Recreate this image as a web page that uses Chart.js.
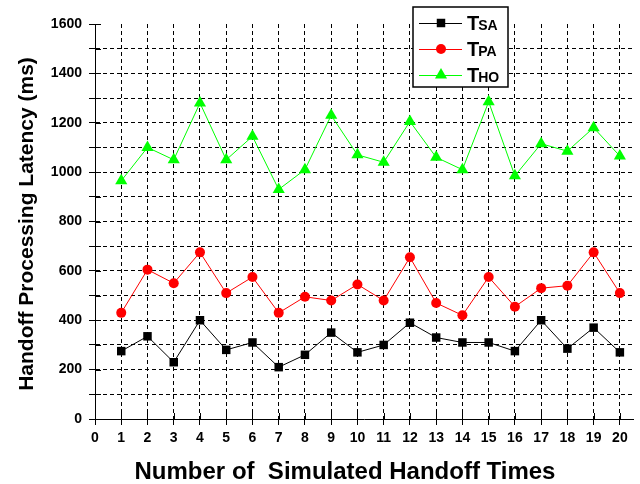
<!DOCTYPE html>
<html>
<head>
<meta charset="utf-8">
<script src="https://cdn.jsdelivr.net/npm/chart.js@4.4.1/dist/chart.umd.min.js"></script>
<style>
  html, body { margin: 0; padding: 0; background: #fff; }
  #wrap { position: relative; width: 640px; height: 484px; }
</style>
</head>
<body>
<div id="wrap"><canvas id="chart" width="640" height="484"></canvas></div>
<script>
// ---- data ----
const handoffs = [1, 2, 3, 4, 5, 6, 7, 8, 9, 10, 11, 12, 13, 14, 15, 16, 17, 18, 19, 20];
const tSA = [275, 335, 230, 400, 280, 310, 210, 260, 350, 270, 300, 390, 330, 310, 310, 275, 400, 285, 370, 270];
const tPA = [430, 605, 550, 675, 510, 575, 430, 495, 480, 545, 480, 655, 470, 420, 575, 455, 530, 540, 675, 510];
const tHO = [965, 1100, 1050, 1280, 1050, 1145, 930, 1010, 1230, 1070, 1040, 1205, 1060, 1010, 1285, 985, 1115, 1085, 1180, 1065];

const yMax = 1600;
const yStep = 100;
const xMax = 20.5;

const FONT = "'Liberation Sans', Arial, sans-serif";

// series: legend main letter + subscript
const series = [
  { main: "T", sub: "SA", values: tSA, color: "#000000", style: "rect", radius: 6 },
  { main: "T", sub: "PA", values: tPA, color: "#ff0000", style: "circle", radius: 5 },
  { main: "T", sub: "HO", values: tHO, color: "#00ff00", style: "triangle", radius: 7 }
];

const datasets = series.map(s => ({
  label: s.main + s.sub,
  data: handoffs.map((x, i) => ({ x: x, y: s.values[i] })),
  borderColor: s.color,
  backgroundColor: s.color,
  borderWidth: 1,
  pointStyle: s.style,
  pointRadius: s.radius,
  pointHoverRadius: s.radius,
  pointBorderWidth: 0,
  pointBackgroundColor: s.color,
  tension: 0
}));

// inner half of the tick marks (ticks cross the axis)
const innerTicks = {
  id: "innerTicks",
  beforeDatasetsDraw(chart) {
    const { ctx, scales: { x, y } } = chart;
    ctx.save();
    ctx.strokeStyle = "#000";
    ctx.lineWidth = 1;
    ctx.beginPath();
    y.ticks.forEach(t => {
      const py = Math.round(y.getPixelForValue(t.value)) + 0.5;
      ctx.moveTo(x.left, py);
      ctx.lineTo(x.left + 6, py);
    });
    x.ticks.forEach(t => {
      const px = Math.round(x.getPixelForValue(t.value)) + 0.5;
      ctx.moveTo(px, y.bottom);
      ctx.lineTo(px, y.bottom - 6);
    });
    ctx.stroke();
    ctx.restore();
  }
};

// axis titles
const axisTitles = {
  id: "axisTitles",
  afterDraw(chart) {
    const { ctx } = chart;
    ctx.save();
    ctx.fillStyle = "#000";
    ctx.font = "bold 24px " + FONT;
    ctx.textAlign = "center";
    ctx.textBaseline = "alphabetic";
    ctx.fillText("Number of  Simulated Handoff Times", 345, 479);

    ctx.translate(33, 224);
    ctx.rotate(-Math.PI / 2);
    ctx.font = "bold 21px " + FONT;
    ctx.fillText("Handoff Processing Latency (ms)", 0, 0);
    ctx.restore();
  }
};

// boxed legend with subscripted labels
const boxLegend = {
  id: "boxLegend",
  afterDraw(chart) {
    const { ctx } = chart;
    const box = { left: 413, top: 7, width: 95, height: 80 };
    ctx.save();
    ctx.fillStyle = "#fff";
    ctx.fillRect(box.left, box.top, box.width, box.height);
    ctx.strokeStyle = "#000";
    ctx.lineWidth = 1.5;
    ctx.strokeRect(box.left, box.top, box.width, box.height);

    series.forEach((s, i) => {
      const cy = 23 + i * 26;
      ctx.strokeStyle = s.color;
      ctx.lineWidth = 1;
      ctx.beginPath();
      ctx.moveTo(419, cy + 0.5);
      ctx.lineTo(462, cy + 0.5);
      ctx.stroke();

      ctx.fillStyle = s.color;
      Chart.helpers.drawPoint(ctx, { pointStyle: s.style, radius: s.radius, rotation: 0, borderWidth: 0 }, 441, cy);

      ctx.fillStyle = "#000";
      ctx.textAlign = "left";
      ctx.textBaseline = "alphabetic";
      ctx.font = "bold 20px " + FONT;
      ctx.fillText(s.main, 467, cy + 7);
      const w = ctx.measureText(s.main).width;
      ctx.font = "bold 14px " + FONT;
      ctx.fillText(s.sub, 467 + w - 1, cy + 7);
    });
    ctx.restore();
  }
};

new Chart(document.getElementById("chart"), {
  type: "line",
  data: { datasets },
  options: {
    responsive: false,
    animation: false,
    layout: { padding: { top: 24, right: 7, left: 0, bottom: 0 } },
    plugins: {
      legend: { display: false },
      tooltip: { enabled: false }
    },
    scales: {
      x: {
        type: "linear",
        min: 0,
        max: xMax,
        afterFit: s => { s.height = 65; },
        afterBuildTicks: s => { s.ticks = s.ticks.filter(t => Number.isInteger(t.value)); },
        ticks: {
          stepSize: 1,
          includeBounds: false,
          color: "#000",
          padding: 5,
          maxRotation: 0,
          autoSkip: false,
          font: { family: FONT, size: 14, weight: "bold" }
        },
        border: { color: "#000", width: 1, dash: [4, 3] },
        grid: {
          color: c => (c.tick && c.tick.value === 0 ? "rgba(0,0,0,0)" : "#000"),
          tickColor: "#000",
          tickLength: 6,
          tickBorderDash: [],
          lineWidth: 1
        },
        title: { display: false }
      },
      y: {
        type: "linear",
        min: 0,
        max: yMax,
        afterFit: s => { s.width = 95; },
        ticks: {
          stepSize: yStep,
          color: "#000",
          padding: 7,
          autoSkip: false,
          font: { family: FONT, size: 14, weight: "bold" },
          callback: v => (v % 200 === 0 ? v : "")
        },
        border: { color: "#000", width: 1, dash: [4, 3] },
        grid: {
          color: c => (c.tick && (c.tick.value === 0 || c.tick.value === yMax) ? "rgba(0,0,0,0)" : "#000"),
          tickColor: "#000",
          tickLength: 6,
          tickBorderDash: [],
          lineWidth: 1
        },
        title: { display: false }
      }
    }
  },
  plugins: [innerTicks, axisTitles, boxLegend]
});
</script>
</body>
</html>
